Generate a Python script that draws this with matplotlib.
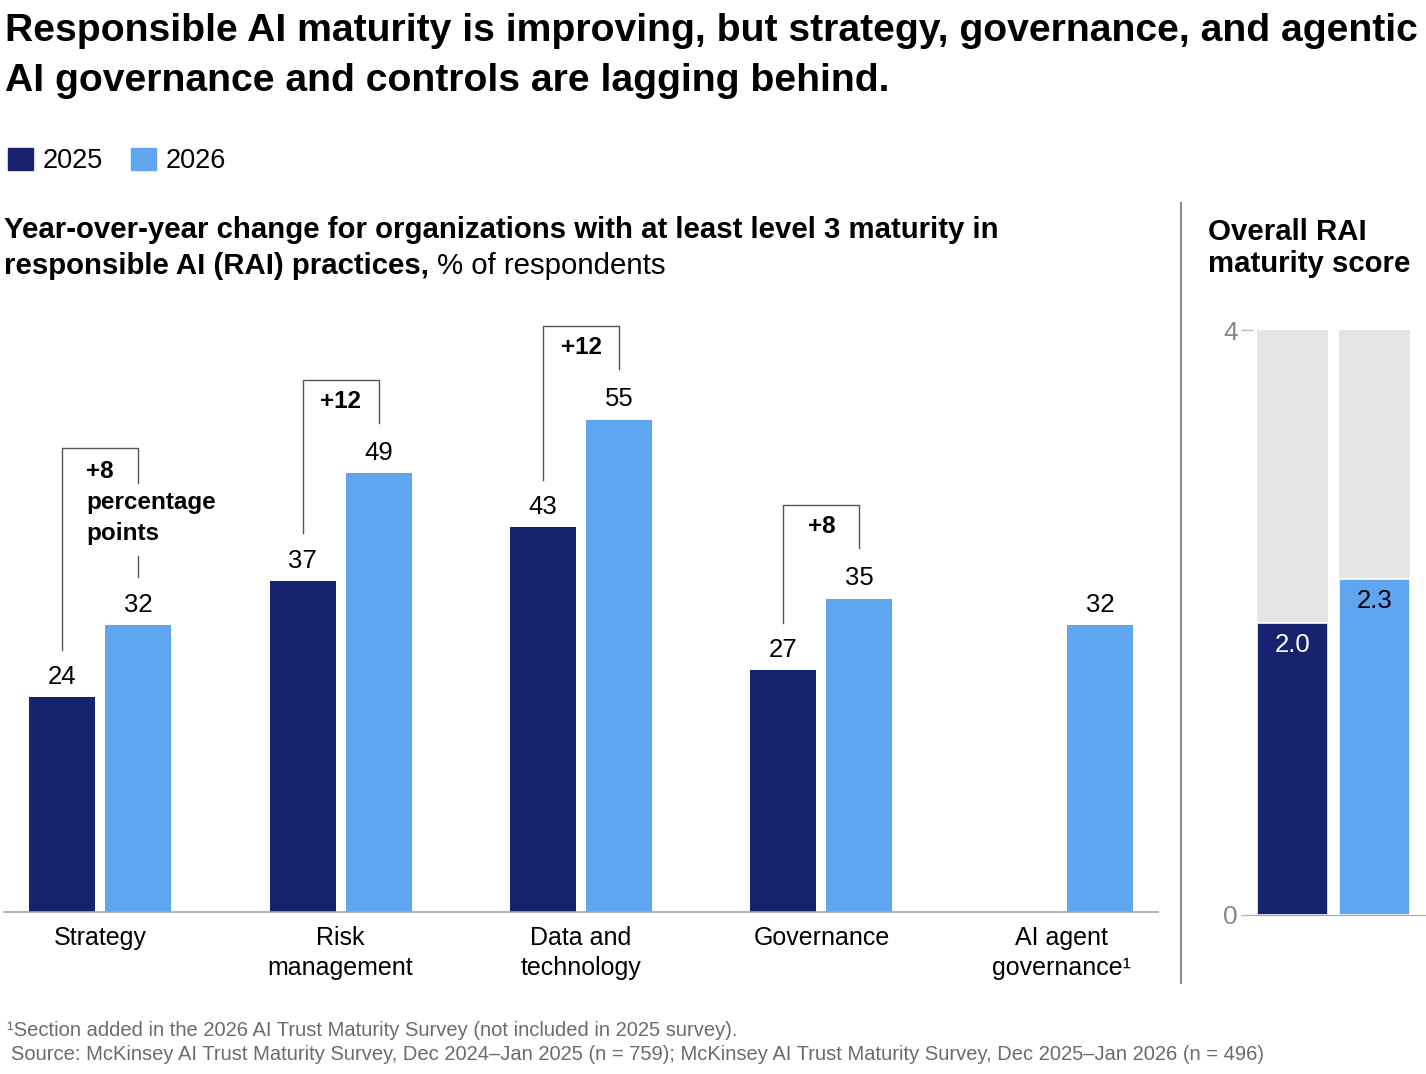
import numpy as np
import matplotlib.pyplot as plt
from matplotlib.patches import Patch
from matplotlib.lines import Line2D

# data
categories = ["Strategy", "Risk\nmanagement", "Data and\ntechnology", "Governance", "AI agent\ngovernance\u00b9"]
values_2025 = [24, 37, 43, 27, None]
values_2026 = [32, 49, 55, 35, 32]
change_labels = ["+8\npercentage\npoints", "+12", "+12", "+8", None]

score_years = ["2025", "2026"]
score_values = [2.0, 2.3]
score_max = 4

dark = "#18236f"
light = "#5fa5ef"
grey_bg = "#e5e5e5"
line_grey = "#555555"

plt.rcParams['font.family'] = ['Liberation Sans', 'DejaVu Sans']

W, H = 1426, 1074
fig = plt.figure(figsize=(W / 100, H / 100), dpi=100)


def fx(px):
    return px / W


def fy(py):
    return 1 - py / H


# main chart
ax = fig.add_axes([fx(4), fy(912), 1154 / W, 582 / H])
x = np.arange(len(categories))
w = 0.274
off = 0.158

for i in range(len(categories)):
    v25, v26 = values_2025[i], values_2026[i]
    if v25 is not None:
        ax.bar(x[i] - off, v25, w, color=dark)
        ax.annotate(str(v25), (x[i] - off, v25), xytext=(0, 14.5), textcoords='offset points',
                    ha='center', va='center', fontsize=18.5)
    ax.bar(x[i] + off, v26, w, color=light)
    ax.annotate(str(v26), (x[i] + off, v26), xytext=(0, 14.5), textcoords='offset points',
                ha='center', va='center', fontsize=18.5)

    # bracket showing the change
    lab = change_labels[i]
    if lab is None:
        continue
    extra = lab.count("\n")
    top = v26 + 10.4 + 4.7 * extra
    drop = 3.9 if extra else 4.8
    kw = dict(color=line_grey, lw=1, clip_on=False)
    ax.plot([x[i] - off, x[i] - off, x[i] + off, x[i] + off],
            [v25 + 5.3, top, top, top - drop], **kw)
    if extra:
        ax.plot([x[i] + off, x[i] + off], [v26 + 5.4, v26 + 7.8], **kw)
        ax.text(x[i] - 0.058, top - 1.3, lab, ha='left', va='top', fontsize=17.5,
                fontweight='bold', linespacing=1.45)
    else:
        ax.text(x[i], top - 1.1, lab, ha='center', va='top', fontsize=17.5, fontweight='bold')

ax.set_xlim(-0.4, 4.4)
ax.set_ylim(0, 65)
ax.set_yticks([])
ax.set_xticks(x)
ax.set_xticklabels(categories, fontsize=18, linespacing=1.32)
ax.tick_params(axis='x', length=0, pad=10)
for s in ['top', 'right', 'left']:
    ax.spines[s].set_visible(False)
ax.spines['bottom'].set_color('#a6a6a6')
ax.spines['bottom'].set_linewidth(1.2)

# overall score panel
ax2 = fig.add_axes([fx(1253), fy(915), 173 / W, 585 / H])
xs = np.arange(len(score_years))
ax2.bar(xs, [score_max] * len(xs), 0.866, color=grey_bg)
ax2.bar(xs, score_values, 0.866, color=[dark, light], edgecolor='white', linewidth=1.2)
for xi, v, c in zip(xs, score_values, ['white', 'black']):
    ax2.annotate(f"{v:.1f}", (xi, v), xytext=(0, -16), textcoords='offset points',
                 ha='center', va='center', fontsize=18.5, color=c)
ax2.set_xlim(-0.48, 1.63)
ax2.set_ylim(0, score_max)
ax2.set_xticks([])
ax2.set_yticks([0, score_max])
ax2.tick_params(axis='y', length=9, width=1, color='#bbbbbb', labelcolor='#888888',
                labelsize=19, pad=2)
for s in ['top', 'right', 'left']:
    ax2.spines[s].set_visible(False)
ax2.spines['bottom'].set_color('#a6a6a6')

# separator
fig.add_artist(Line2D([fx(1181), fx(1181)], [fy(203), fy(983)], color='#8c8c8c', lw=1.5))

# titles
fig.text(fx(5), fy(31), "Responsible AI maturity is improving, but strategy, governance, and agentic",
         fontsize=28.2, fontweight='bold', va='center')
fig.text(fx(5), fy(81), "AI governance and controls are lagging behind.",
         fontsize=28.2, fontweight='bold', va='center')

fig.legend(handles=[Patch(color=dark, label='2025'), Patch(color=light, label='2026')],
           loc='center left', bbox_to_anchor=(fx(8), fy(161)), ncol=2, frameon=False,
           fontsize=19.5, handlelength=0.92, handleheight=0.92, handletextpad=0.35,
           columnspacing=1.05, borderpad=0, borderaxespad=0)

fig.text(fx(4), fy(230), "Year-over-year change for organizations with at least level 3 maturity in",
         fontsize=21.2, fontweight='bold', va='center')
t2 = fig.text(fx(4), fy(266), "responsible AI (RAI) practices,", fontsize=21.2, fontweight='bold', va='center')
ax.annotate(" % of respondents", xy=(1, 0), xycoords=t2, ha='left', va='bottom', fontsize=21.2)

fig.text(fx(1208), fy(248), "Overall RAI\nmaturity score", fontsize=21.2, fontweight='bold',
         va='center', linespacing=1.2)

# footnotes
fig.text(fx(7), fy(1031), "\u00b9Section added in the 2026 AI Trust Maturity Survey (not included in 2025 survey).",
         fontsize=14.5, color='#6b6b6b', va='center')
fig.text(fx(11), fy(1054), "Source: McKinsey AI Trust Maturity Survey, Dec 2024\u2013Jan 2025 (n = 759); "
         "McKinsey AI Trust Maturity Survey, Dec 2025\u2013Jan 2026 (n = 496)",
         fontsize=14.5, color='#6b6b6b', va='center')

fig.savefig("out.png", dpi=100)
